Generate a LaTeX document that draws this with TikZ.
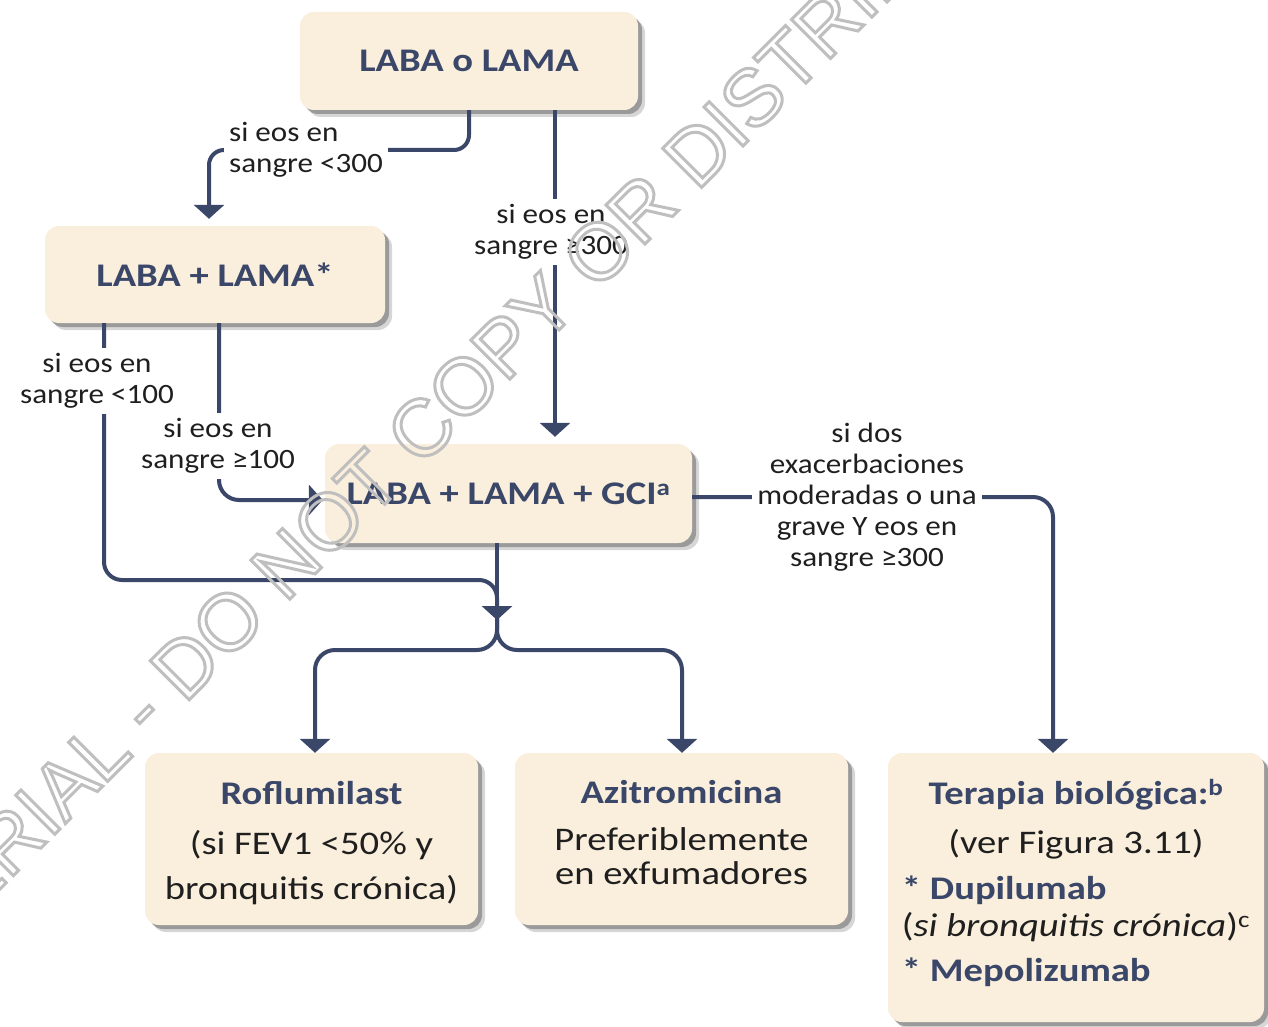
\documentclass[tikz,border=0pt]{standalone}
\usepackage{fontspec}
\setmainfont[FakeStretch=1.17]{Carlito}
\newfontfamily\lblfont[FakeStretch=1.11]{Carlito}
\newfontfamily\wmfont{Liberation Sans}
\usetikzlibrary{shadows,arrows.meta}
\definecolor{boxfill}{HTML}{FAEEDC}
\definecolor{navy}{HTML}{3A4769}
\definecolor{txt}{HTML}{1F1F1F}
\definecolor{wmgray}{HTML}{BFBFBF}
\newcommand\hd{\bfseries\color{navy}}
\newcommand\fB{\fontsize{33}{47}\selectfont}
\newcommand\fL{\lblfont\fontsize{28}{31}\selectfont}
\begin{document}
\begin{tikzpicture}[x=1pt,y=-1pt,
  box/.style={rounded corners=14pt, fill=boxfill, align=center, inner sep=0pt, text=txt, font=\fB,
    drop shadow={shadow xshift=7pt,shadow yshift=-7pt,fill=black,opacity=.16},
    drop shadow={shadow xshift=4pt,shadow yshift=-4pt,fill=black,opacity=.28}},
  conn/.style={draw=navy, line width=4pt, rounded corners=18pt},
  tip/.style={-{Triangle[width=30pt,length=14pt]}},
  lbl/.style={fill=white, text=txt, font=\fL, align=center, inner sep=5pt}]
\useasboundingbox (0,0) rectangle (1268,1027);

% boxes
\node[box, minimum width=338pt, minimum height=98pt] (b1) at (469,61) {\hd LABA o LAMA};
\node[box, minimum width=340pt, minimum height=97pt] (b2) at (215,274.5) {\hd LABA + LAMA*};
\node[box, minimum width=367pt, minimum height=99pt] (b3) at (508.5,493.5) {\hd LABA + LAMA + GCI\textsuperscript{a}};
\node[box, minimum width=333pt, minimum height=172pt] (b4) at (311.5,839) {\begin{tabular}{@{}c@{}}
{\hd Roflumilast}\\[3pt]
(si FEV1 <50\% y\\[-2pt]
bronquitis crónica)\\[-8pt]
\end{tabular}};
\node[box, minimum width=333pt, minimum height=172pt] (b5) at (681.5,839) {\begin{tabular}{@{}c@{}}
{\hd Azitromicina}\\
Preferiblemente\\[-13pt]
en exfumadores\\[8pt]
\end{tabular}};
\node[box, minimum width=376pt, minimum height=269pt] (b6) at (1076,887.5) {\begin{tabular}{@{}l@{}}
\multicolumn{1}{@{}c@{}}{\hd Terapia biológica:\textsuperscript{b}}\\[2pt]
\multicolumn{1}{@{}c@{}}{(ver Figura 3.11)}\\[-1pt]
{\hd * Dupilumab}\\[-10pt]
(\textit{si bronquitis crónica})\textsuperscript{c}\\[-2pt]
{\hd * Mepolizumab}\\[8pt]
\end{tabular}};

% helper coordinates
\coordinate (c1) at (209,150);
\coordinate (xm) at (555,0);
\coordinate (c3) at (104,580);
\coordinate (mg) at (497,620);
\coordinate (mgA) at (497,606);
\coordinate (mgB) at (497,614);
\coordinate (c4) at (219,500);
\coordinate (sl) at (315,650);
\coordinate (sr) at (682,650);
\coordinate (c6) at (1053,497);

% connectors
\draw[conn, rounded corners=15pt, tip, shorten >=7pt] (b1.south) |- (c1) -- (c1 |- b2.north);
\draw[conn, tip, shorten >=7pt] (b1.south -| xm) -- (b3.north -| xm);
\draw[conn] (b2.south -| c3) |- (mg |- c3) -- (mgA);
\draw[conn, tip] (b3.south -| mg) -- (mg);
\draw[conn, rounded corners=20pt, tip] (mgB) |- (sl) -- (sl |- b4.north);
\draw[conn, rounded corners=20pt, tip] (mgB) |- (sr) -- (sr |- b5.north);
\draw[conn, rounded corners=20pt, tip, shorten >=2pt] (b2.south -| c4) |- (b3.west |- c4);
\draw[conn, rounded corners=20pt, tip] (b3.east |- c6) -- (c6) -- (c6 |- b6.north);

% labels
\node[lbl, anchor=west, align=left] (l1) at (224,150) {si eos en\\sangre <300};
\node[lbl] (l2) at (551,232) {si eos en\\sangre ≥300};
\node[lbl] (l3) at (97,381) {si eos en\\sangre <100};
\node[lbl] (l4) at (218,446) {si eos en\\sangre ≥100};
\node[lbl] (l5) at (867,497) {si dos\\exacerbaciones\\moderadas o una\\grave Y eos en\\sangre ≥300};

% watermark
\node[font=\wmfont\fontsize{80}{80}\selectfont, text=wmgray, rotate=45, inner sep=0pt] (wm) at (425,425)
  {\special{pdf:literal direct 1 Tr 3 w}MATERIAL - DO NOT COPY OR DISTRIBUTE\special{pdf:literal direct 0 Tr}};
\end{tikzpicture}
\end{document}
